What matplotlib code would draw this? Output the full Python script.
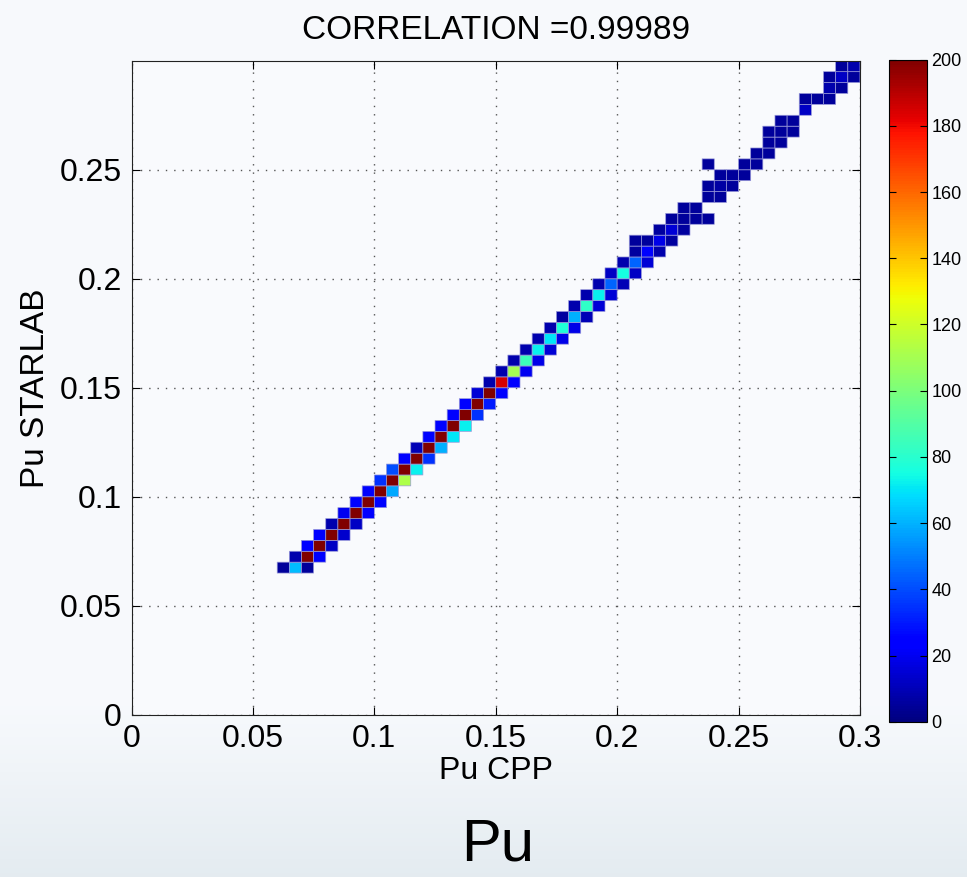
import numpy as np
import matplotlib
matplotlib.use('Agg')
from matplotlib import pyplot as plt

plt.rcParams['font.family'] = ['Liberation Sans', 'DejaVu Sans']

# bin centres (bin width 0.005) and counts, one row of the 2d histogram per line
pu_cpp = [
    0.0625, 0.0675, 0.0725,
    0.0675, 0.0725, 0.0775,
    0.0725, 0.0775, 0.0825,
    0.0775, 0.0825, 0.0875,
    0.0825, 0.0875, 0.0925,
    0.0875, 0.0925, 0.0975,
    0.0925, 0.0975, 0.1025,
    0.0975, 0.1025, 0.1075,
    0.1025, 0.1075, 0.1125,
    0.1075, 0.1125, 0.1175,
    0.1125, 0.1175, 0.1225,
    0.1175, 0.1225, 0.1275,
    0.1225, 0.1275, 0.1325,
    0.1275, 0.1325, 0.1375,
    0.1325, 0.1375, 0.1425,
    0.1375, 0.1425, 0.1475,
    0.1425, 0.1475, 0.1525,
    0.1475, 0.1525, 0.1575,
    0.1525, 0.1575, 0.1625,
    0.1575, 0.1625, 0.1675,
    0.1625, 0.1675, 0.1725,
    0.1675, 0.1725, 0.1775,
    0.1725, 0.1775, 0.1825,
    0.1775, 0.1825, 0.1875,
    0.1825, 0.1875, 0.1925,
    0.1875, 0.1925, 0.1975,
    0.1925, 0.1975, 0.2025,
    0.1975, 0.2025, 0.2075,
    0.2025, 0.2075, 0.2125,
    0.2075, 0.2125, 0.2175,
    0.2075, 0.2125, 0.2175, 0.2225,
    0.2175, 0.2225, 0.2275,
    0.2225, 0.2275, 0.2325, 0.2375,
    0.2275, 0.2325,
    0.2375, 0.2425,
    0.2375, 0.2425, 0.2475,
    0.2425, 0.2475, 0.2525,
    0.2375, 0.2525, 0.2575,
    0.2575, 0.2625,
    0.2625, 0.2675,
    0.2625, 0.2675, 0.2725,
    0.2675, 0.2725,
    0.2775,
    0.2775, 0.2825, 0.2875,
    0.2875, 0.2925,
    0.2875, 0.2925, 0.2975,
    0.2925, 0.2975,
]
pu_starlab = [
    0.0675, 0.0675, 0.0675,
    0.0725, 0.0725, 0.0725,
    0.0775, 0.0775, 0.0775,
    0.0825, 0.0825, 0.0825,
    0.0875, 0.0875, 0.0875,
    0.0925, 0.0925, 0.0925,
    0.0975, 0.0975, 0.0975,
    0.1025, 0.1025, 0.1025,
    0.1075, 0.1075, 0.1075,
    0.1125, 0.1125, 0.1125,
    0.1175, 0.1175, 0.1175,
    0.1225, 0.1225, 0.1225,
    0.1275, 0.1275, 0.1275,
    0.1325, 0.1325, 0.1325,
    0.1375, 0.1375, 0.1375,
    0.1425, 0.1425, 0.1425,
    0.1475, 0.1475, 0.1475,
    0.1525, 0.1525, 0.1525,
    0.1575, 0.1575, 0.1575,
    0.1625, 0.1625, 0.1625,
    0.1675, 0.1675, 0.1675,
    0.1725, 0.1725, 0.1725,
    0.1775, 0.1775, 0.1775,
    0.1825, 0.1825, 0.1825,
    0.1875, 0.1875, 0.1875,
    0.1925, 0.1925, 0.1925,
    0.1975, 0.1975, 0.1975,
    0.2025, 0.2025, 0.2025,
    0.2075, 0.2075, 0.2075,
    0.2125, 0.2125, 0.2125,
    0.2175, 0.2175, 0.2175, 0.2175,
    0.2225, 0.2225, 0.2225,
    0.2275, 0.2275, 0.2275, 0.2275,
    0.2325, 0.2325,
    0.2375, 0.2375,
    0.2425, 0.2425, 0.2425,
    0.2475, 0.2475, 0.2475,
    0.2525, 0.2525, 0.2525,
    0.2575, 0.2575,
    0.2625, 0.2625,
    0.2675, 0.2675, 0.2675,
    0.2725, 0.2725,
    0.2775,
    0.2825, 0.2825, 0.2825,
    0.2875, 0.2875,
    0.2925, 0.2925, 0.2925,
    0.2975, 0.2975,
]
counts = [
    5, 62, 5,
    8, 200, 22,
    22, 200, 12,
    22, 200, 14,
    8, 200, 12,
    20, 200, 22,
    25, 200, 25,
    25, 200, 58,
    35, 200, 112,
    40, 200, 72,
    25, 200, 35,
    10, 200, 60,
    25, 200, 70,
    25, 200, 72,
    25, 200, 35,
    25, 200, 30,
    15, 200, 25,
    8, 185, 25,
    8, 110, 20,
    8, 85, 18,
    8, 72, 15,
    8, 70, 18,
    8, 78, 18,
    6, 60, 10,
    8, 82, 15,
    8, 72, 15,
    8, 45, 10,
    12, 75, 12,
    8, 45, 15,
    6, 25, 8,
    5, 5, 18, 6,
    6, 15, 6,
    5, 5, 5, 5,
    5, 5,
    5, 5,
    5, 7, 5,
    5, 5, 5,
    5, 5, 5,
    5, 5,
    5, 5,
    5, 5, 5,
    5, 5,
    12,
    5, 5, 5,
    8, 5,
    5, 12, 5,
    5, 8,
]

xticks = [0, 0.05, 0.1, 0.15, 0.2, 0.25, 0.3]
xticklabels = ['0', '0.05', '0.1', '0.15', '0.2', '0.25', '0.3']
yticks = [0, 0.05, 0.1, 0.15, 0.2, 0.25]
yticklabels = ['0', '0.05', '0.1', '0.15', '0.2', '0.25']
cbar_ticks = list(range(0, 201, 20))

edges = np.linspace(0, 0.3, 61)
H, xe, ye = np.histogram2d(pu_cpp, pu_starlab, bins=[edges, edges], weights=counts)
H = np.ma.masked_equal(H.T, 0)

fig = plt.figure(figsize=(9.67, 8.77), dpi=100)

# slide-like background: near white on top, pale blue-grey at the bottom
bg = fig.add_axes([0, 0, 1, 1], zorder=-10)
grad = np.ones((200, 1, 3))
t = np.linspace(0, 1, 200)
shade = np.clip((t - 0.80) / 0.20, 0, 1)
top = np.array([0.972, 0.980, 0.992])
bot = np.array([0.895, 0.925, 0.945])
grad[:, 0, :] = top[None, :] * (1 - shade[:, None]) + bot[None, :] * shade[:, None]
bg.imshow(grad, aspect='auto', extent=[0, 1, 0, 1], origin='upper')
bg.axis('off')

ax = fig.add_axes([0.136, 0.185, 0.7533, 0.7457])
ax.set_facecolor('#f9fafd')
mesh = ax.pcolor(xe, ye, H, cmap='jet', vmin=0, vmax=200,
                 edgecolors=(0.6, 0.6, 0.85), linewidth=0.5)

ax.set_xlim(0, 0.3)
ax.set_ylim(0, 0.3)
ax.set_xticks(xticks)
ax.set_xticklabels(xticklabels)
ax.set_yticks(yticks)
ax.set_yticklabels(yticklabels)
ax.grid(True, linestyle=(0, (1, 5)), color='#555555', linewidth=1.0)
ax.set_axisbelow(True)
ax.tick_params(axis='both', which='major', direction='in', length=6, width=0.8,
               top=True, right=True, labelsize=23, pad=7)
for s in ax.spines.values():
    s.set_linewidth(0.8)
    s.set_color('#222222')

ax.set_title('CORRELATION =0.99989', fontsize=24, pad=16)
ax.set_xlabel('Pu CPP', fontsize=23, labelpad=1)
ax.set_ylabel('Pu STARLAB', fontsize=24, labelpad=6)

cax = fig.add_axes([0.919, 0.177, 0.040, 0.755])
cb = fig.colorbar(mesh, cax=cax, ticks=cbar_ticks)
cb.outline.set_linewidth(0.8)
cax.tick_params(direction='in', length=5, width=0.8, labelsize=13, pad=3,
                left=True, right=True)

fig.text(0.515, 0.019, 'Pu', fontsize=43, ha='center', va='baseline')

plt.savefig('out.png', dpi=100)
